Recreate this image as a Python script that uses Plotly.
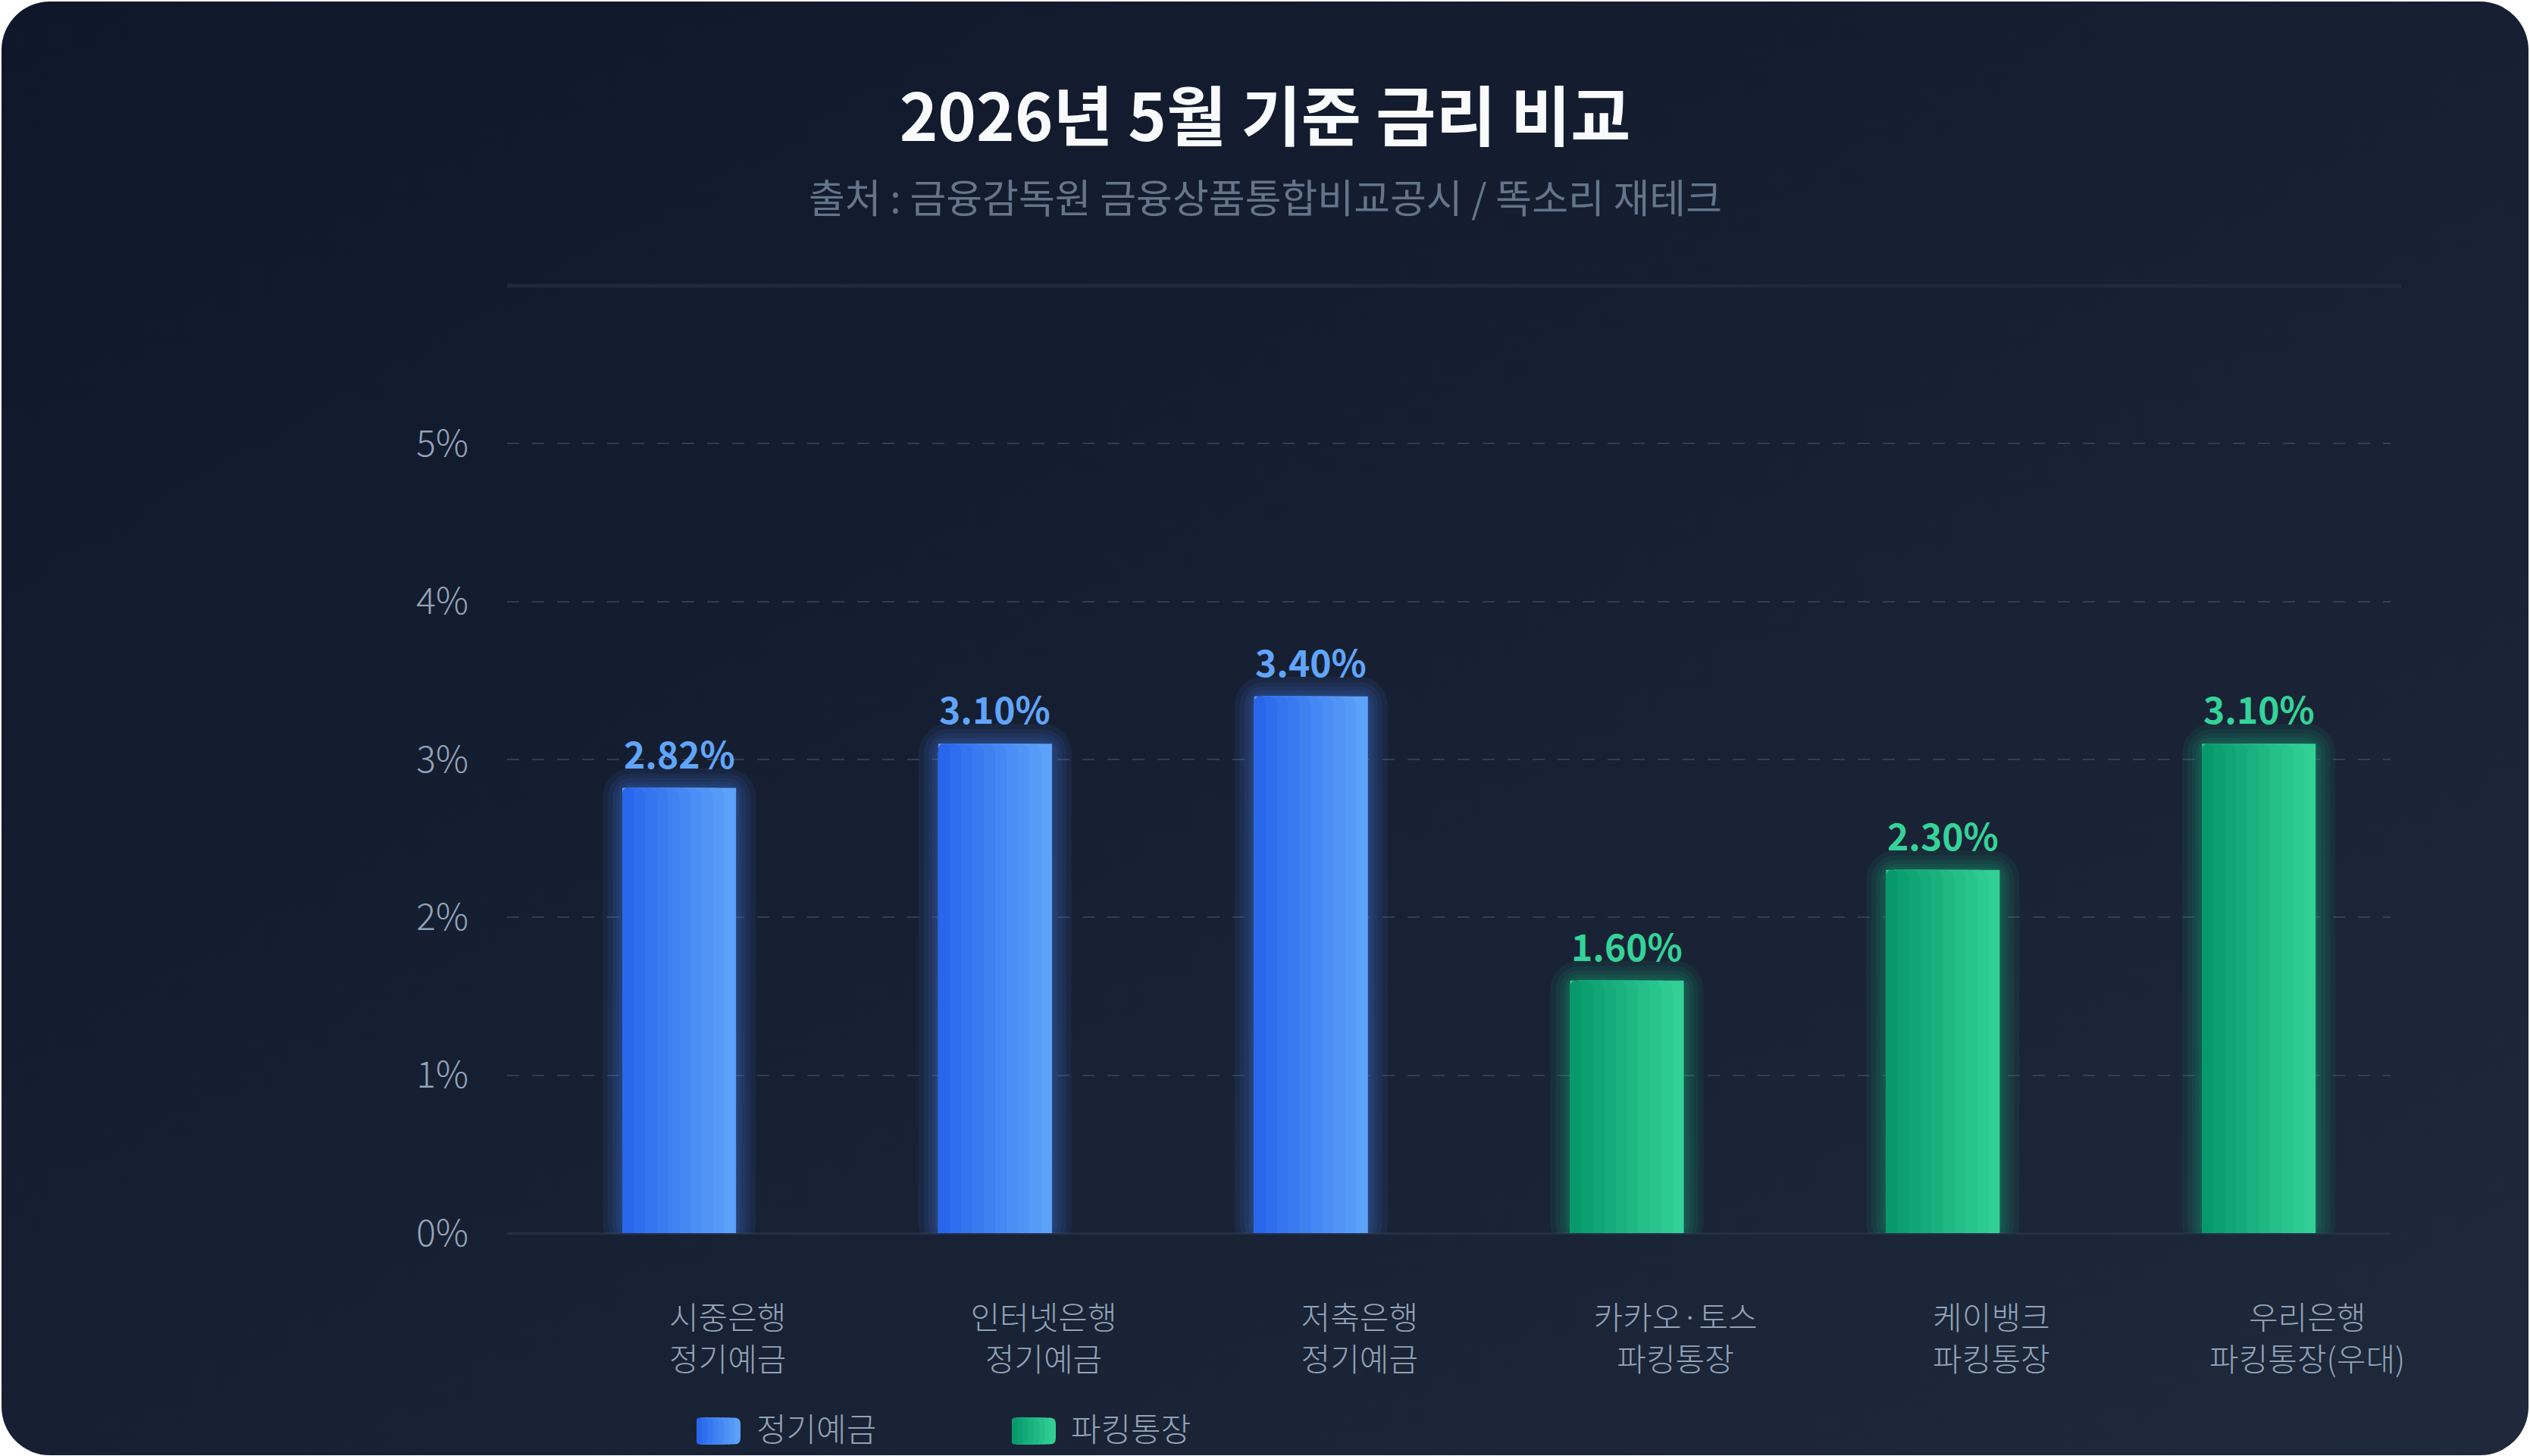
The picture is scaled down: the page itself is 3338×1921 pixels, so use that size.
#!/usr/bin/env python3
# 2026년 5월 기준 금리 비교 — 정기예금 vs 파킹통장 bar chart (dark card style)

import base64
import plotly.graph_objects as go

# ── Data ──────────────────────────────────────────────────────────────────────
DEPOSIT_LABELS = ["시중은행<br>정기예금", "인터넷은행<br>정기예금", "저축은행<br>정기예금"]
DEPOSIT_RATES  = [2.82, 3.10, 3.40]

PARKING_LABELS = ["카카오·토스<br>파킹통장", "케이뱅크<br>파킹통장", "우리은행<br>파킹통장(우대)"]
PARKING_RATES  = [1.60, 2.30, 3.10]

Y_TICKS = [0, 1, 2, 3, 4, 5]

TITLE    = "2026년 5월 기준 금리 비교"
SUBTITLE = "출처 : 금융감독원 금융상품통합비교공시 / 똑소리 재테크"

# ── Page geometry / theme ─────────────────────────────────────────────────────
PAGE_W, PAGE_H = 3338, 1921
M_L, M_R, M_T, M_B = 669, 184, 377, 294
PLOT_W = PAGE_W - M_L - M_R
PLOT_H = PAGE_H - M_T - M_B
X_RANGE = [-0.545, 5.417]
Y_RANGE = [0, 6]
UNIT_X = PLOT_W / (X_RANGE[1] - X_RANGE[0])   # px per category
UNIT_Y = PLOT_H / (Y_RANGE[1] - Y_RANGE[0])   # px per %

FONT    = "Noto Sans CJK KR, Noto Sans, sans-serif"
TEXT    = "#f8fafc"
SUBTEXT = "#64748b"
TICK    = "#94a3b8"
GRID    = "rgba(71,85,105,0.55)"
BAR_W   = 0.36
N_STRIPS = 10

SERIES = [
    # name, labels, values, left colour, right colour, label colour
    ("정기예금", DEPOSIT_LABELS, DEPOSIT_RATES, "#2563eb", "#60a5fa", "#60a5fa"),
    ("파킹통장", PARKING_LABELS, PARKING_RATES, "#059669", "#34d399", "#34d399"),
]


def mix(c1: str, c2: str, t: float) -> str:
    a = [int(c1[i:i + 2], 16) for i in (1, 3, 5)]
    b = [int(c2[i:i + 2], 16) for i in (1, 3, 5)]
    return "#" + "".join(f"{round(x + (y - x) * t):02x}" for x, y in zip(a, b))


def px_x(px: float) -> float:
    return (px - M_L) / PLOT_W


def px_y(py: float) -> float:
    return (PAGE_H - M_B - py) / PLOT_H


def rounded_box(x0: float, x1: float, h: float, r: float) -> str:
    y0, y1 = -h / 2, h / 2
    return (f"M{x0 + r},{y0} L{x1 - r},{y0} Q{x1},{y0} {x1},{y0 + r} "
            f"L{x1},{y1 - r} Q{x1},{y1} {x1 - r},{y1} L{x0 + r},{y1} "
            f"Q{x0},{y1} {x0},{y1 - r} L{x0},{y0 + r} Q{x0},{y0} {x0 + r},{y0} Z")


fig = go.Figure()

# ── Glow behind the bars ──────────────────────────────────────────────────────
for name, labels, values, c_left, c_right, _ in SERIES:
    mid = mix(c_left, c_right, 0.5)
    for g in (26, 19, 13, 8, 4):
        pad = g / UNIT_Y
        fig.add_trace(go.Bar(
            x=labels, y=[v + 2 * pad for v in values], base=-pad,
            width=BAR_W + 2 * g / UNIT_X,
            marker=dict(color=mid, opacity=0.085, line_width=0, cornerradius=12 + g),
            hoverinfo="skip", showlegend=False,
        ))

# ── Bars: horizontal gradient built from left-anchored strips ─────────────────
for name, labels, values, c_left, c_right, _ in SERIES:
    for k in range(N_STRIPS):
        frac = (N_STRIPS - k) / N_STRIPS
        fig.add_trace(go.Bar(
            x=labels, y=values, name=name,
            width=BAR_W * frac, offset=-BAR_W / 2,
            marker=dict(color=mix(c_left, c_right, (N_STRIPS - k - 0.5) / N_STRIPS),
                        line_width=0, cornerradius=12),
            showlegend=False,
            hovertemplate=f"<b>{name}</b><br>%{{y:.2f}}%<extra></extra>" if k == 0 else None,
            hoverinfo=None if k == 0 else "skip",
        ))

# ── Value labels ──────────────────────────────────────────────────────────────
annotations = []
for name, labels, values, _, _, c_label in SERIES:
    for lab, v in zip(labels, values):
        annotations.append(dict(
            x=lab, y=v, xref="x", yref="y", text=f"{v:.2f}%", showarrow=False,
            yanchor="bottom", yshift=10,
            font=dict(family=FONT, size=48, color=c_label, weight="bold"),
        ))

# Subtitle
annotations.append(dict(
    x=px_x(PAGE_W / 2), y=px_y(259), xref="paper", yref="paper",
    text=SUBTITLE, showarrow=False, xanchor="center", yanchor="middle",
    font=dict(family=FONT, size=52, color=SUBTEXT),
))

# ── Legend (drawn as boxes + labels) ──────────────────────────────────────────
shapes = []
legend_pos = [(948, 996), (1364, 1411)]
BOX_W, BOX_H, N_LEG = 58, 35, 8
for (name, _, _, c_left, c_right, _), (box_cx, text_x) in zip(SERIES, legend_pos):
    for k in range(N_LEG):
        right = -BOX_W / 2 + BOX_W * (N_LEG - k) / N_LEG
        shapes.append(dict(
            type="path", xref="paper", yref="paper",
            xsizemode="pixel", ysizemode="pixel",
            xanchor=px_x(box_cx), yanchor=px_y(1888),
            path=rounded_box(-BOX_W / 2, right, BOX_H, min(8, (right + BOX_W / 2) / 2)),
            fillcolor=mix(c_left, c_right, (N_LEG - k - 0.5) / N_LEG), line_width=0,
        ))
    annotations.append(dict(
        x=px_x(text_x), y=px_y(1883), xref="paper", yref="paper",
        text=name, showarrow=False, xanchor="left", yanchor="middle",
        font=dict(family=FONT, size=43, color=TICK, weight=300),
    ))

# Divider line at the top of the plot area
shapes.append(dict(
    type="line", xref="paper", yref="paper",
    x0=0, x1=px_x(3168), y0=1, y1=1,
    line=dict(color="#1f2a3d", width=5), layer="below",
))

# ── Card background (rounded, diagonal gradient) ──────────────────────────────
svg = (
    f'<svg xmlns="http://www.w3.org/2000/svg" width="{PAGE_W}" height="{PAGE_H}" '
    f'viewBox="0 0 {PAGE_W} {PAGE_H}"><defs><linearGradient id="g" x1="0" y1="0" x2="1" y2="1">'
    f'<stop offset="0" stop-color="#0f172a"/><stop offset="1" stop-color="#1e293b"/>'
    f'</linearGradient></defs><rect x="2" y="2" width="{PAGE_W - 4}" height="{PAGE_H - 3}" '
    f'rx="64" ry="64" fill="url(#g)"/></svg>'
)
bg_src = "data:image/svg+xml;base64," + base64.b64encode(svg.encode()).decode()

fig.update_layout(
    width=PAGE_W, height=PAGE_H,
    barmode="overlay",
    paper_bgcolor="#ffffff",
    plot_bgcolor="rgba(0,0,0,0)",
    font=dict(family=FONT, color=TICK),
    margin=dict(l=M_L, r=M_R, t=M_T, b=M_B, pad=0),
    title=dict(
        text=TITLE, xref="container", yref="container",
        x=0.5, y=1 - 156 / PAGE_H, xanchor="center", yanchor="middle",
        font=dict(family=FONT, size=86, color=TEXT, weight="bold"),
    ),
    showlegend=False,
    annotations=annotations,
    shapes=shapes,
    images=[dict(
        source=bg_src, xref="paper", yref="paper",
        x=-M_L / PLOT_W, y=1 + M_T / PLOT_H,
        sizex=PAGE_W / PLOT_W, sizey=PAGE_H / PLOT_H,
        xanchor="left", yanchor="top", sizing="stretch", layer="below",
    )],
)

fig.update_xaxes(
    type="category", categoryorder="array",
    categoryarray=DEPOSIT_LABELS + PARKING_LABELS,
    range=X_RANGE, showgrid=False, showline=False, zeroline=False, ticks="",
    tickfont=dict(family=FONT, size=42, color=TICK, weight=300),
    ticklabelshift=64, ticklabelstandoff=84, fixedrange=True,
)
fig.update_yaxes(
    range=Y_RANGE, tickvals=Y_TICKS, ticktext=[f"{t}%" for t in Y_TICKS],
    showgrid=True, gridcolor=GRID, gridwidth=2, griddash="16px,17px",
    zeroline=True, zerolinecolor="#243044", zerolinewidth=3,
    showline=False, ticks="", ticklabelstandoff=50,
    tickfont=dict(family=FONT, size=48, color=TICK, weight=300),
    fixedrange=True,
)

fig.write_html("out.html", config={"displayModeBar": False},
               post_script="document.body.style.margin='0';")
